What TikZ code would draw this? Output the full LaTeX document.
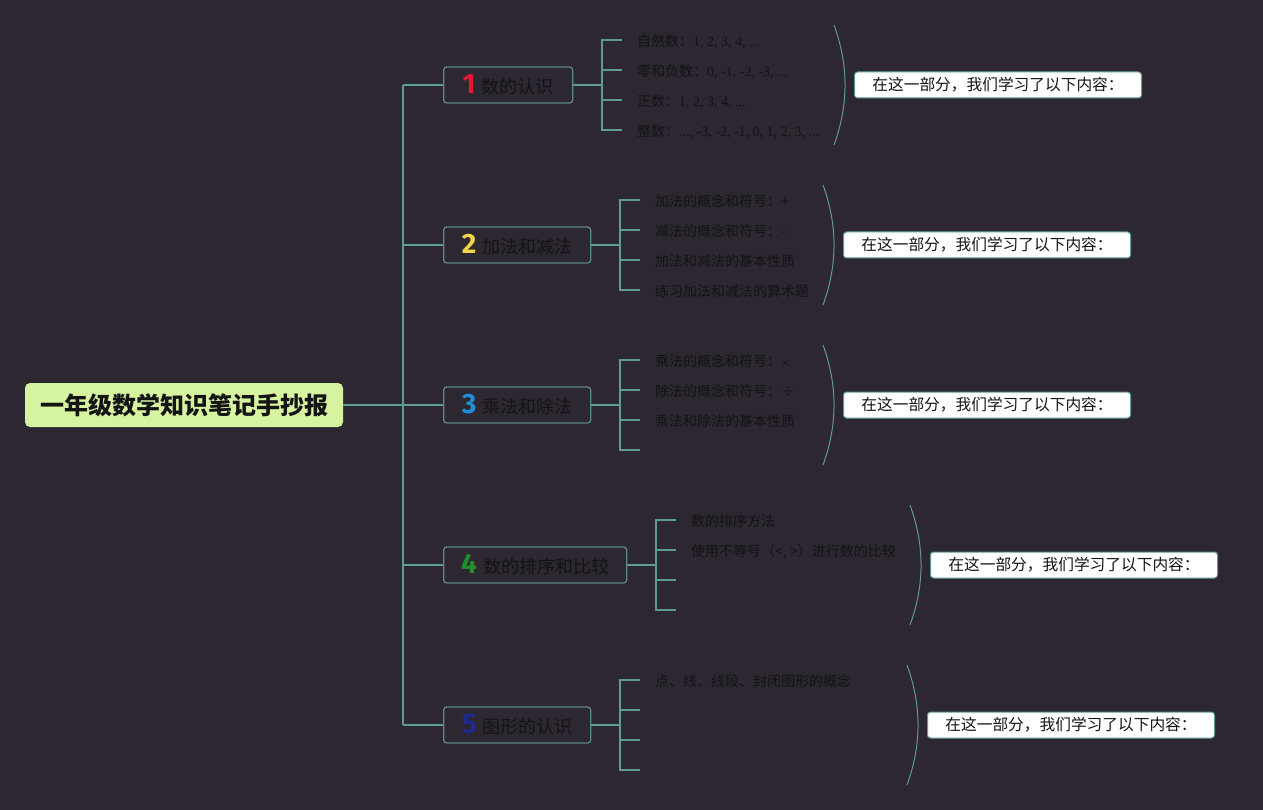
\documentclass[tikz,border=0pt]{standalone}
\usepackage{fontspec}
\setmainfont{Liberation Serif}
\newfontfamily\cjk{Noto Sans CJK SC}
\newfontfamily\numfont{Fira Sans}
\usetikzlibrary{positioning}

\definecolor{bgdark}{HTML}{2C2731}
\definecolor{linec}{HTML}{5E9B95}
\definecolor{boxline}{HTML}{5A8A86}
\definecolor{rootfill}{HTML}{D6F3A0}
\definecolor{inktext}{HTML}{141414}
\definecolor{numred}{HTML}{E3172F}
\definecolor{numyellow}{HTML}{F4D348}
\definecolor{numblue}{HTML}{1E8FD9}
\definecolor{numgreen}{HTML}{1F8F2A}
\definecolor{numnavy}{HTML}{1E2A8F}

\newcommand{\topicnum}[2]{{\numfont\bfseries\fontsize{28}{28}\selectfont\color{#1}#2}\hspace{6pt}}

\begin{document}
\begin{tikzpicture}[x=1pt,y=-1pt,
    link/.style={draw=linec,line width=1.3pt},
    rootbox/.style={fill=rootfill,rounded corners=5pt,minimum width=318pt,
                    minimum height=44pt,inner sep=0pt,text=inktext,
                    font=\cjk\bfseries\fontsize{24}{27}\selectfont},
    topicbox/.style={draw=boxline,line width=1.3pt,fill=bgdark,rounded corners=3pt,
                     minimum height=36pt,inner sep=0pt,anchor=west,text=inktext,
                     font=\cjk\fontsize{18}{21}\selectfont},
    leaf/.style={inner sep=0pt,yshift=-1.5pt,text=inktext,font=\cjk\fontsize{14}{17}\selectfont},
    sumbox/.style={draw=linec,line width=1pt,fill=white,rounded corners=3pt,
                   minimum width=287pt,minimum height=26pt,inner sep=0pt,
                   text=inktext,font=\cjk\fontsize{15.7}{18}\selectfont}]

  \fill[bgdark] (0,0) rectangle (1263,810);
  \useasboundingbox (0,0) rectangle (1263,810);

  \node[rootbox] (root) at (184,405) {一年级数学知识笔记手抄报};

  \node[topicbox,minimum width=129pt] (t1) at (443,85)  {\topicnum{numred}{1}数的认识};
  \node[topicbox,minimum width=147pt] (t2) at (443,245) {\topicnum{numyellow}{2}加法和减法};
  \node[topicbox,minimum width=147pt] (t3) at (443,405) {\topicnum{numblue}{3}乘法和除法};
  \node[topicbox,minimum width=183pt] (t4) at (443,565) {\topicnum{numgreen}{4}数的排序和比较};
  \node[topicbox,minimum width=147pt] (t5) at (443,725) {\topicnum{numnavy}{5}图形的认识};

  % trunk
  \coordinate (trunk) at (403,405);
  \draw[link] (root.east) -- (trunk);
  \draw[link] (t1.west -| trunk) -- (t5.west -| trunk);
  \foreach \k in {1,...,5}
    \draw[link] (t\k.west -| trunk) -- (t\k.west);

  % brackets, arcs and summaries
  \foreach \k/\bx/\ya/\ax in {1/602/40/834, 2/620/200/823, 3/620/360/823,
                              4/656/520/910, 5/620/680/907} {
    \coordinate (j\k) at (\bx,\ya+45);
    \foreach \i in {0,...,3}
      \coordinate (k\k\i) at (\bx+20,\ya+30*\i);
    \draw[link] (t\k.east) -- (j\k);
    \draw[link] (k\k0) -- (k\k0 -| j\k) -- (k\k3 -| j\k) -- (k\k3);
    \draw[link] (k\k1 -| j\k) -- (k\k1);
    \draw[link] (k\k2 -| j\k) -- (k\k2);

    \coordinate (a\k) at (\ax,\ya-15);
    \coordinate (c\k) at (\ax+14.7,\ya+25);
    \coordinate (d\k) at (\ax+14.7,\ya+65);
    \coordinate (e\k) at (\ax,\ya+105);
    \coordinate (p\k) at (\ax+11,\ya+45);
    \draw[linec,line width=1pt] (a\k) .. controls (c\k) and (d\k) .. (e\k);
    \node[sumbox,right=9pt of p\k] (s\k) {在这一部分，我们学习了以下内容：};
  }

  % leaves
  \node[leaf,right=15pt of k10] (l10) {自然数：{\rmfamily 1, 2, 3, 4, ...}};
  \node[leaf,right=15pt of k11] (l11) {零和负数：{\rmfamily 0, -1, -2, -3, ...}};
  \node[leaf,right=15pt of k12] (l12) {正数：{\rmfamily 1, 2, 3, 4, ...}};
  \node[leaf,right=15pt of k13] (l13) {整数：{\rmfamily ..., -3, -2, -1, 0, 1, 2, 3, ...}};

  \node[leaf,right=15pt of k20] (l20) {加法的概念和符号：+};
  \node[leaf,right=15pt of k21] (l21) {减法的概念和符号：-};
  \node[leaf,right=15pt of k22] (l22) {加法和减法的基本性质};
  \node[leaf,right=15pt of k23] (l23) {练习加法和减法的算术题};

  \node[leaf,right=15pt of k30] (l30) {乘法的概念和符号：{\small ×}};
  \node[leaf,right=15pt of k31] (l31) {除法的概念和符号：÷};
  \node[leaf,right=15pt of k32] (l32) {乘法和除法的基本性质};

  \node[leaf,right=15pt of k40] (l40) {数的排序方法};
  \node[leaf,right=15pt of k41] (l41) {使用不等号（<, >）进行数的比较};

  \node[leaf,right=15pt of k50] (l50) {点、线、线段、封闭图形的概念};
\end{tikzpicture}
\end{document}
